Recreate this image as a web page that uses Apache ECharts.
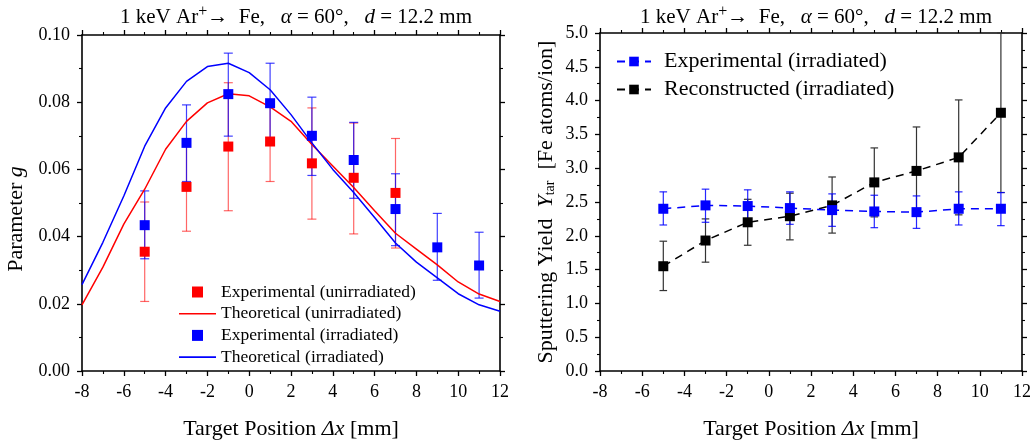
<!DOCTYPE html>
<html><head><meta charset="utf-8">
<script src="https://cdn.jsdelivr.net/npm/echarts@6/dist/echarts.min.js"></script>
<style>html,body{margin:0;padding:0;background:#fff}#c{width:1035px;height:445px}</style>
</head><body><div id="c"></div>
<script>
// ---- data ----
const theoryX = [-8,-7,-6,-5,-4,-3,-2,-1,0,1,2,3,4,5,6,7,8,9,10,11,12];
const theoryUnirr = [0.0197,0.0309,0.0437,0.0541,0.0660,0.0743,0.0798,0.0825,0.0819,0.0786,0.0743,0.0674,0.0610,0.0546,0.0477,0.0410,0.0363,0.0316,0.0265,0.0229,0.0207];
const theoryIrr = [0.0257,0.0383,0.0521,0.0669,0.0783,0.0862,0.0906,0.0916,0.0888,0.0837,0.0763,0.0679,0.0600,0.0531,0.0457,0.0381,0.0324,0.0277,0.0230,0.0197,0.0178];
const expUnirrX = [-5,-3,-1,1,3,5,7];
const expUnirrY = [0.0355,0.0548,0.0668,0.0683,0.0618,0.0575,0.0530];
const expUnirrLow = [0.0207,0.0416,0.0477,0.0564,0.0452,0.0408,0.0366];
const expUnirrHigh = [0.0503,0.0680,0.0858,0.0800,0.0783,0.0738,0.0692];
const expIrrX = [-5,-3,-1,1,3,5,7,9,11];
const expIrrY = [0.0434,0.0679,0.0824,0.0797,0.0700,0.0628,0.0482,0.0368,0.0314];
const expIrrLow = [0.0334,0.0564,0.0699,0.0672,0.0582,0.0514,0.0373,0.0270,0.0217];
const expIrrHigh = [0.0536,0.0792,0.0946,0.0916,0.0815,0.0740,0.0587,0.0469,0.0413];
const yieldX = [-5,-3,-1,1,3,5,7,9,11];
const yieldExp = [2.40,2.45,2.44,2.41,2.38,2.36,2.35,2.40,2.40];
const yieldExpLow = [2.16,2.20,2.20,2.17,2.14,2.12,2.11,2.16,2.15];
const yieldExpHigh = [2.65,2.69,2.68,2.65,2.62,2.60,2.59,2.65,2.64];
const yieldRec = [1.55,1.93,2.20,2.29,2.45,2.79,2.96,3.16,3.82];
const yieldRecLow = [1.19,1.61,1.86,1.94,2.04,2.28,2.32,2.31,2.64];
const yieldRecHigh = [1.92,2.25,2.54,2.63,2.87,3.30,3.61,4.01,5.00];

// ---- helpers ----
const FONT = '"Liberation Serif", "DejaVu Serif", serif';
const NAMEFS = 22;
const zip = (a,b) => a.map((v,i)=>[v,b[i]]);
const zip3 = (a,b,c) => a.map((v,i)=>[v,b[i],c[i]]);
function errBar(xi, yi, data, color, cap, z){
  return {
    type:'custom', xAxisIndex:xi, yAxisIndex:yi, z:z, silent:true,
    data:data,
    renderItem:function(params, api){
      const x = api.value(0), lo = api.value(1), hi = api.value(2);
      const p1 = api.coord([x, lo]), p2 = api.coord([x, hi]);
      const st = {stroke:color, lineWidth:1.2};
      return {type:'group', children:[
        {type:'line', shape:{x1:p1[0],y1:p1[1],x2:p2[0],y2:p2[1]}, style:st},
        {type:'line', shape:{x1:p1[0]-cap,y1:p1[1],x2:p1[0]+cap,y2:p1[1]}, style:st},
        {type:'line', shape:{x1:p2[0]-cap,y1:p2[1],x2:p2[0]+cap,y2:p2[1]}, style:st}
      ]};
    }
  };
}
function xAx(gi, pos, show){
  return {
    type:'value', gridIndex:gi, position:pos, min:-8, max:12, interval:2,
    axisLine:{show:true, onZero:false, lineStyle:{color:'#000', width:1.6}},
    axisTick:{show:true, length:5, lineStyle:{color:'#000', width:1.3}},
    minorTick:{show:true, splitNumber:2, length:3, lineStyle:{color:'#000', width:1.1}},
    splitLine:{show:false},
    axisLabel:{show:show, color:'#000', fontFamily:FONT, fontSize:18, margin:12,
      formatter:(v)=>String(v)},
    name: show ? '{n|Target Position }{i|\u0394x}{n| [mm]}' : '',
    nameLocation:'middle', nameGap:47,
    nameTextStyle:{rich:{n:{fontFamily:FONT,fontSize:NAMEFS,color:'#000'},
      i:{fontFamily:FONT,fontSize:NAMEFS,fontStyle:'italic',color:'#000'}}}
  };
}
function yAx(gi, pos, show, min, max, interval, dec, name, gap, rich){
  return {
    type:'value', gridIndex:gi, position:pos, min:min, max:max, interval:interval,
    axisLine:{show:true, onZero:false, lineStyle:{color:'#000', width:1.6}},
    axisTick:{show:true, length:5, lineStyle:{color:'#000', width:1.3}},
    minorTick:{show:true, splitNumber:2, length:3, lineStyle:{color:'#000', width:1.1}},
    splitLine:{show:false},
    axisLabel:{show:show, color:'#000', fontFamily:FONT, fontSize:18, margin:12,
      formatter:(v)=>v.toFixed(dec)},
    name: show ? name : '', nameLocation:'middle', nameGap:gap, nameRotate:90,
    nameTextStyle:{rich:rich}
  };
}
const titleRich = {
  n:{fontFamily:FONT,fontSize:21,fontWeight:'normal',color:'#000'},
  sup:{fontFamily:FONT,fontSize:16,fontWeight:'normal',color:'#000',verticalAlign:'top',padding:[0,0,10,0]},
  i:{fontFamily:FONT,fontSize:21,fontWeight:'normal',fontStyle:'italic',color:'#000'}
};
const titleText = '{n|1 keV Ar}{sup|+}{n|\u2192  Fe,   }{i|\u03b1}{n| = 60\u00b0,   }{i|d}{n| = 12.2 mm}';
const sqIcon = 'path://M0,0h10v10h-10z';
const lineIcon = 'path://M0,0h37v1.6h-37z';

const option = {
  animation:false,
  backgroundColor:'#fff',
  title:[
    {text:titleText, left:291, top:-1, textAlign:'center', textStyle:{fontWeight:'normal', rich:titleRich}},
    {text:titleText, left:811, top:-1, textAlign:'center', textStyle:{fontWeight:'normal', rich:titleRich}}
  ],
  grid:[
    {left:82, right:535, top:35, bottom:72},
    {left:600, right:13, top:33, bottom:73}
  ],
  xAxis:[ xAx(0,'bottom',true), xAx(0,'top',false), xAx(1,'bottom',true), xAx(1,'top',false) ],
  yAxis:[
    yAx(0,'left',true,0,0.1,0.02,2,'{n|Parameter }{i|g}{sp|}',55,
      {n:{fontFamily:FONT,fontSize:NAMEFS,color:'#000'},i:{fontFamily:FONT,fontSize:NAMEFS,fontStyle:'italic',color:'#000'},
       sp:{width:32}}),
    yAx(0,'right',false,0,0.1,0.02,2,'',0,{}),
    yAx(1,'left',true,0,5,0.5,1,'{n|Sputtering Yield  }{i|Y}{s|tar}{n|  [Fe atoms/ion]}',43,
      {n:{fontFamily:FONT,fontSize:NAMEFS,color:'#000'},i:{fontFamily:FONT,fontSize:NAMEFS,fontStyle:'italic',color:'#000'},
       s:{fontFamily:FONT,fontSize:14,color:'#000',verticalAlign:'bottom'}}),
    yAx(1,'right',false,0,5,0.5,1,'',0,{})
  ],
  legend:[
    {orient:'vertical', left:174, top:278, itemWidth:37, itemHeight:11, itemGap:3.7,
     textStyle:{fontFamily:FONT,fontSize:17.5,color:'#000',lineHeight:18},
     data:[
      {name:'Experimental (unirradiated)', icon:sqIcon},
      {name:'Theoretical (unirradiated)', icon:lineIcon},
      {name:'Experimental (irradiated)', icon:sqIcon},
      {name:'Theoretical (irradiated)', icon:lineIcon}
     ]},
    {orient:'vertical', left:611, top:45, itemWidth:34, itemHeight:12, itemGap:5,
     textStyle:{fontFamily:FONT,fontSize:22,color:'#000',lineHeight:23, padding:[0,0,0,8]},
     data:['Experimental (irradiated) ','Reconstructed (irradiated)']}
  ],
  series:[
    errBar(0,0,zip3(expUnirrX,expUnirrLow,expUnirrHigh),'rgba(255,0,0,0.6)',4.5,2),
    errBar(0,0,zip3(expIrrX,expIrrLow,expIrrHigh),'rgba(0,0,255,0.75)',4.5,3),
    {name:'Theoretical (unirradiated)', type:'line', xAxisIndex:0, yAxisIndex:0, data:zip(theoryX,theoryUnirr),
      symbol:'none', lineStyle:{color:'#ff0000', width:1.5}, itemStyle:{color:'#ff0000'}, z:4},
    {name:'Theoretical (irradiated)', type:'line', xAxisIndex:0, yAxisIndex:0, data:zip(theoryX,theoryIrr),
      symbol:'none', lineStyle:{color:'#0000ff', width:1.5}, itemStyle:{color:'#0000ff'}, z:4},
    {name:'Experimental (unirradiated)', type:'scatter', xAxisIndex:0, yAxisIndex:0, data:zip(expUnirrX,expUnirrY),
      symbol:'rect', symbolSize:10, itemStyle:{color:'#ff0000', opacity:1}, z:5},
    {name:'Experimental (irradiated)', type:'scatter', xAxisIndex:0, yAxisIndex:0, data:zip(expIrrX,expIrrY),
      symbol:'rect', symbolSize:10, itemStyle:{color:'#0000ff', opacity:1}, z:6},

    errBar(2,2,zip3(yieldX,yieldRecLow,yieldRecHigh),'#333',3.8,2),
    errBar(2,2,zip3(yieldX,yieldExpLow,yieldExpHigh),'rgba(0,0,255,0.85)',3.8,3),
    {name:'Reconstructed (irradiated)', type:'line', xAxisIndex:2, yAxisIndex:2, data:zip(yieldX,yieldRec),
      symbol:'rect', symbolSize:10, lineStyle:{color:'#000', width:1.5, type:[8,6]}, itemStyle:{color:'#000'}, z:4},
    {name:'Experimental (irradiated) ', type:'line', xAxisIndex:2, yAxisIndex:2, data:zip(yieldX,yieldExp),
      symbol:'rect', symbolSize:10, lineStyle:{color:'#0000ff', width:1.5, type:[8,6]}, itemStyle:{color:'#0000ff'}, z:5}
  ]
};
const chart = echarts.init(document.getElementById('c'), null, {renderer:'canvas'});
chart.setOption(option);
</script></body></html>
